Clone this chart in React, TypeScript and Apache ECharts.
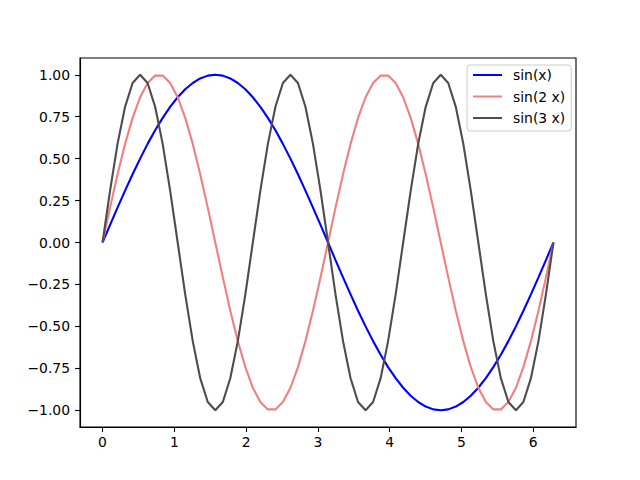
import React, { useEffect, useRef } from "react";
import * as echarts from "echarts";

// x sample positions (0 .. 2π, 61 samples)
const xValues = [
  0, 0.105, 0.209, 0.314, 0.419, 0.524, 0.628, 0.733, 0.838, 0.942,
  1.047, 1.152, 1.257, 1.361, 1.466, 1.571, 1.676, 1.780, 1.885, 1.990,
  2.094, 2.199, 2.304, 2.409, 2.513, 2.618, 2.723, 2.827, 2.932, 3.037,
  3.142, 3.246, 3.351, 3.456, 3.560, 3.665, 3.770, 3.875, 3.979, 4.084,
  4.189, 4.294, 4.398, 4.503, 4.608, 4.712, 4.817, 4.922, 5.027, 5.131,
  5.236, 5.341, 5.445, 5.550, 5.655, 5.760, 5.864, 5.969, 6.074, 6.178,
  6.283,
];

const sin1 = [
  0, 0.105, 0.208, 0.309, 0.407, 0.5, 0.588, 0.669, 0.743, 0.809,
  0.866, 0.914, 0.951, 0.978, 0.995, 1, 0.995, 0.978, 0.951, 0.914,
  0.866, 0.809, 0.743, 0.669, 0.588, 0.5, 0.407, 0.309, 0.208, 0.105,
  0, -0.105, -0.208, -0.309, -0.407, -0.5, -0.588, -0.669, -0.743, -0.809,
  -0.866, -0.914, -0.951, -0.978, -0.995, -1, -0.995, -0.978, -0.951, -0.914,
  -0.866, -0.809, -0.743, -0.669, -0.588, -0.5, -0.407, -0.309, -0.208, -0.105,
  0,
];

const sin2 = [
  0, 0.208, 0.407, 0.588, 0.743, 0.866, 0.951, 0.995, 0.995, 0.951,
  0.866, 0.743, 0.588, 0.407, 0.208, 0, -0.208, -0.407, -0.588, -0.743,
  -0.866, -0.951, -0.995, -0.995, -0.951, -0.866, -0.743, -0.588, -0.407, -0.208,
  0, 0.208, 0.407, 0.588, 0.743, 0.866, 0.951, 0.995, 0.995, 0.951,
  0.866, 0.743, 0.588, 0.407, 0.208, 0, -0.208, -0.407, -0.588, -0.743,
  -0.866, -0.951, -0.995, -0.995, -0.951, -0.866, -0.743, -0.588, -0.407, -0.208,
  0,
];

const sin3 = [
  0, 0.309, 0.588, 0.809, 0.951, 1, 0.951, 0.809, 0.588, 0.309,
  0, -0.309, -0.588, -0.809, -0.951, -1, -0.951, -0.809, -0.588, -0.309,
  0, 0.309, 0.588, 0.809, 0.951, 1, 0.951, 0.809, 0.588, 0.309,
  0, -0.309, -0.588, -0.809, -0.951, -1, -0.951, -0.809, -0.588, -0.309,
  0, 0.309, 0.588, 0.809, 0.951, 1, 0.951, 0.809, 0.588, 0.309,
  0, -0.309, -0.588, -0.809, -0.951, -1, -0.951, -0.809, -0.588, -0.309,
  0,
];

const seriesNames = ["sin(x)", "sin(2 x)", "sin(3 x)"];
const seriesColors = ["#0000ff", "#f08080", "#4d4d4d"];
const xTicks = [0, 1, 2, 3, 4, 5, 6];
const yTicks = [-1, -0.75, -0.5, -0.25, 0, 0.25, 0.5, 0.75, 1];

const FONT = "DejaVu Sans";

export default function App() {
  const ref = useRef<HTMLDivElement>(null);
  useEffect(() => {
    if (!ref.current) return;
    const chart = echarts.init(ref.current, null, { renderer: "svg" });
    const allY = [sin1, sin2, sin3];
    const option: any = {
      animation: false,
      backgroundColor: "#ffffff",
      grid: {
        left: 80,
        top: 58,
        width: 496,
        height: 369,
        show: true,
        borderColor: "#000000",
        borderWidth: 1.1,
        backgroundColor: "transparent",
      },
      legend: {
        data: seriesNames,
        orient: "vertical",
        left: 467,
        top: 65,
        itemWidth: 29,
        itemHeight: 14,
        itemGap: 7.5,
        padding: [3, 6, 6, 5],
        backgroundColor: "rgba(255,255,255,0.8)",
        borderColor: "#cccccc",
        borderWidth: 1,
        borderRadius: 3,
        itemStyle: { opacity: 0 },
        textStyle: {
          fontFamily: FONT,
          fontSize: 13.9,
          color: "#000000",
          padding: [0, 0, 0, 6],
        },
      },
      xAxis: {
        type: "value",
        min: -0.314,
        max: 6.597,
        splitLine: { show: false },
        axisLine: { show: true, onZero: false, lineStyle: { color: "#000", width: 1.1 } },
        axisTick: {
          show: true,
          inside: false,
          length: 4.9,
          customValues: xTicks,
          lineStyle: { color: "#000", width: 1.1 },
        },
        axisLabel: {
          customValues: xTicks,
          fontFamily: FONT,
          fontSize: 13.9,
          color: "#000",
          margin: 8,
          formatter: (v: number) => String(v),
        },
      },
      yAxis: {
        type: "value",
        min: -1.1,
        max: 1.1,
        splitLine: { show: false },
        axisLine: { show: true, onZero: false, lineStyle: { color: "#000", width: 1.1 } },
        axisTick: {
          show: true,
          inside: false,
          length: 4.9,
          customValues: yTicks,
          lineStyle: { color: "#000", width: 1.1 },
        },
        axisLabel: {
          customValues: yTicks,
          fontFamily: FONT,
          fontSize: 13.9,
          color: "#000",
          margin: 10,
          formatter: (v: number) => {
            const s = Math.abs(v).toFixed(2);
            return v < 0 ? "\u2212" + s : s;
          },
        },
      },
      series: seriesNames.map((name, k) => ({
        name,
        type: "line",
        symbol: "none",
        showSymbol: false,
        smooth: false,
        color: seriesColors[k],
        lineStyle: { color: seriesColors[k], width: 2.1 },
        data: xValues.map((x, i) => [x, allY[k][i]]),
        z: 2 + k,
      })),
    };
    chart.setOption(option);
    return () => chart.dispose();
  }, []);
  return (
    <div
      ref={ref}
      style={{ position: "fixed", left: 0, top: 0, width: 640, height: 480 }}
    />
  );
}
